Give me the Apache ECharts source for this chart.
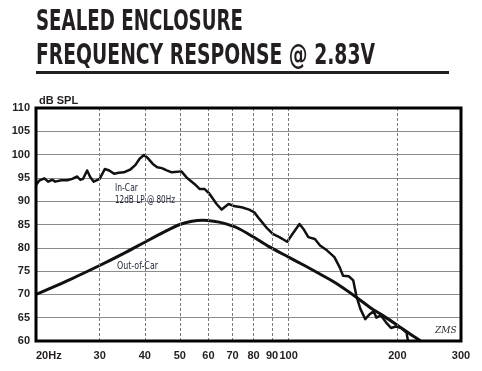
<!DOCTYPE html>
<html><head><meta charset="utf-8">
<script src="https://cdn.jsdelivr.net/npm/echarts@6/dist/echarts.min.js"></script>
<style>html,body{margin:0;padding:0;background:#fff}#c{width:482px;height:371px}</style>
</head><body><div id="c"></div>
<script>
// ---- text ----
const titleLines = ['SEALED ENCLOSURE', 'FREQUENCY RESPONSE @ 2.83V'];
const yAxisName = 'dB SPL';
const inCarLabel = 'In-Car';
const inCarNote = '12dB LP @ 80Hz';
const outCarLabel = 'Out-of-Car';
const signature = 'ZMS';

// ---- axes ----
const yMin = 60, yMax = 110, yStep = 5;
const xMin = 20, xMax = 300;
const xTickValues = [20, 30, 40, 50, 60, 70, 80, 90, 100, 200, 300];
const xGridValues = [30, 40, 50, 60, 70, 80, 90, 100, 200];

// ---- data (Hz, dB SPL) ----
const inCarFreq = [20,20.4,21.1,21.6,22.2,22.6,23.5,24.4,25.2,26.0,26.5,27.0,27.7,28.3,28.9,30.0,31.0,31.9,32.9,33.9,35.0,36.5,37.7,38.7,39.8,40.6,42.1,43.3,44.6,46.0,47.5,50.5,52.2,54.9,56.8,58.6,60.4,63.2,65.3,68.2,71.1,74.1,77.8,80.4,83.0,86.7,90.4,94.3,99.1,102.6,107.2,109.8,113.4,118.2,122.2,127.9,133.9,138.5,141.5,146.7,151,154,158,163,168,172,175,180,186,192,198,205,212,214];
const inCarDb = [93.5,94.4,94.9,94.2,94.6,94.2,94.5,94.5,94.8,95.3,94.6,94.8,96.6,95.1,94.2,94.8,96.9,96.6,95.9,96.1,96.2,96.8,97.8,99.1,99.9,99.4,98.0,97.3,97.1,96.6,96.2,96.4,95.1,93.7,92.6,92.6,91.6,89.4,88.2,89.4,88.9,88.7,88.2,87.6,86.2,84.4,83.0,82.3,81.3,83.0,85.1,84.1,82.3,81.9,80.5,79.4,78.0,75.8,74.0,73.9,73.0,69.7,66.9,64.7,65.8,66.4,65.0,65.5,64.0,62.8,63.1,62.8,61.8,60.0];
const outCarFreq = [20,25,30,35,40,45,50,54,58,62,66,72,80,88,100,110,120,134,154,168,182,200,215,232];
const outCarDb = [70.0,73.3,76.2,78.8,81.2,83.3,85.0,85.7,85.9,85.7,85.3,84.3,82.3,80.3,78.0,76.3,74.7,72.6,69.4,67.2,65.5,63.4,61.7,60.0];

// ---- build ----
const pairs = (xs, ys) => xs.map((x, i) => [x, ys[i]]);
const INK = '#231f20';
const SANS = '"Liberation Sans", Arial, sans-serif';
const COND = '"Liberation Sans Narrow", "DejaVu Sans Condensed", "Liberation Sans", sans-serif';
const mctx = document.createElement('canvas').getContext('2d');
function fit(text, font, target) { mctx.font = font; return target / mctx.measureText(text).width; }
function condText(text, x, y, font, width, fill) {
  return { type: 'text', x: x, y: y, scaleX: fit(text, font, width), z: 50, silent: true,
    style: { text: text, font: font, fill: fill, align: 'left', verticalAlign: 'middle' } };
}
const titleFont = 'bold 29px ' + COND;
const noteFont = '10px ' + COND;

const chart = echarts.init(document.getElementById('c'), null, { renderer: 'canvas' });
chart.setOption({
  backgroundColor: '#fff',
  animation: false,
  grid: { left: 36, right: 21, top: 108, bottom: 30, show: false },
  xAxis: {
    type: 'log', logBase: 10, min: xMin, max: xMax,
    axisLine: { show: false }, axisTick: { show: false }, splitLine: { show: false },
    axisLabel: {
      customValues: xTickValues, interval: 0, hideOverlap: false,
      formatter: v => { const r = Math.round(v); return r === 20 ? '20Hz' : String(r); },
      fontFamily: SANS, fontWeight: 'bold', fontSize: 11, color: INK, margin: 9,
      alignMinLabel: 'left'
    }
  },
  yAxis: {
    type: 'value', min: yMin, max: yMax, interval: yStep,
    axisLine: { show: false }, axisTick: { show: false },
    splitLine: { show: true, lineStyle: { color: '#8c8c8c', width: 1 } },
    axisLabel: { fontFamily: SANS, fontWeight: 'bold', fontSize: 11, color: INK, margin: 6 }
  },
  series: [
    { type: 'line', data: [], silent: true,
      markLine: { silent: true, symbol: ['none', 'none'], label: { show: false },
        lineStyle: { color: '#7a7a7a', type: [3, 2], width: 1 },
        data: xGridValues.map(v => ({ xAxis: v })) } },
    { name: 'Out-of-Car', type: 'line', data: pairs(outCarFreq, outCarDb), showSymbol: false, smooth: 0.3,
      lineStyle: { color: '#111', width: 3 }, silent: true },
    { name: 'In-Car', type: 'line', data: pairs(inCarFreq, inCarDb), showSymbol: false,
      lineStyle: { color: '#111', width: 2.5, join: 'round' }, silent: true }
  ],
  graphic: [
    condText(titleLines[0], 36, 22.5, titleFont, 207, INK),
    condText(titleLines[1], 36, 56, titleFont, 339, INK),
    { type: 'rect', shape: { x: 36, y: 71, width: 413, height: 3 }, style: { fill: INK }, silent: true },
    { type: 'rect', shape: { x: 36, y: 108, width: 425, height: 233 }, style: { fill: 'none', stroke: '#000', lineWidth: 3 }, z: 60, silent: true },
    { type: 'text', x: 39, y: 100.5, silent: true, style: { text: yAxisName, font: 'bold 11px ' + SANS, fill: INK, align: 'left', verticalAlign: 'middle' } },
    condText(inCarLabel, 115, 188.5, noteFont, 23, '#1c2333'),
    condText(inCarNote, 115, 200, noteFont, 60, '#1c2333'),
    condText(outCarLabel, 117, 266, noteFont, 41, '#1c2333'),
    { type: 'text', x: 435, y: 331, silent: true, style: { text: signature, font: 'italic 9px "DejaVu Serif", serif', fill: INK, align: 'left', verticalAlign: 'middle' } }
  ]
});
</script></body></html>
